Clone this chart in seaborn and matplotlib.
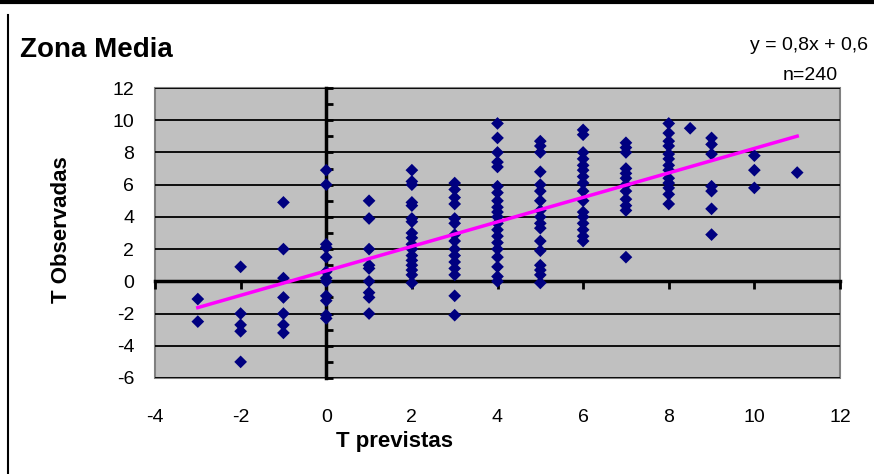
import matplotlib
matplotlib.use("Agg")
import matplotlib.pyplot as plt
from matplotlib.lines import Line2D
from matplotlib.ticker import MultipleLocator
import seaborn as sns
import pandas as pd
import numpy as np

# T previstas (x) columns and the T observadas values
prev_cols = [-3, -2, -1, 0, 1, 2, 3, 4, 5, 6, 7, 8, 8.5, 9, 10, 11]
obs_m3 = [-1.1, -2.5]
obs_m2 = [0.9, -2.0, -2.7, -3.1, -5.0]
obs_m1 = [4.9, 2.0, 0.2, -1.0, -2.0, -2.7, -3.2]
obs_0 = [6.9, 6.0, 2.3, 2.1, 1.5, 0.6, 0.2, 0.0, -0.9, -1.2, -2.1, -2.3]
obs_1 = [5.0, 3.9, 2.0, 1.0, 0.8, 0.0, -0.7, -1.0, -2.0]
obs_2 = [6.9, 6.2, 6.0, 4.9, 4.7, 3.9, 3.7, 3.0, 2.7, 2.3, 2.0, 1.6, 1.3, 1.0, 0.7, 0.4, -0.1]
obs_3 = [6.1, 5.7, 5.2, 4.8, 3.9, 3.6, 2.9, 2.5, 2.0, 1.6, 1.2, 0.8, 0.4, -0.9, -2.1]
obs_4 = [9.8, 8.9, 8.0, 7.4, 7.1, 5.9, 5.5, 5.0, 4.6, 4.3, 4.0, 3.6, 3.2, 2.8, 2.4, 2.0, 1.5, 0.9, 0.3, 0.0]
obs_5 = [8.7, 8.4, 8.0, 6.8, 6.0, 5.6, 5.0, 4.4, 4.0, 3.6, 3.3, 2.5, 1.9, 1.0, 0.7, 0.4, -0.1]
obs_6 = [9.4, 9.1, 8.0, 7.6, 7.2, 6.9, 6.5, 6.1, 5.6, 5.0, 4.3, 4.0, 3.6, 3.2, 2.8, 2.5]
obs_7 = [8.6, 8.3, 8.0, 7.0, 6.7, 6.4, 6.0, 5.6, 5.1, 4.7, 4.4, 1.5]
obs_8 = [9.8, 9.2, 8.7, 8.4, 7.9, 7.6, 7.2, 6.9, 6.4, 6.1, 5.8, 5.4, 4.8]
obs_85 = [9.5]
obs_9 = [8.9, 8.5, 7.9, 5.9, 5.6, 4.5, 2.9]
obs_10 = [7.8, 6.9, 5.8]
obs_11 = [6.75]

obs_cols = [obs_m3, obs_m2, obs_m1, obs_0, obs_1, obs_2, obs_3, obs_4,
            obs_5, obs_6, obs_7, obs_8, obs_85, obs_9, obs_10, obs_11]

# Excel linear trendline
trend_slope = 0.76
trend_intercept = 0.65
trend_range = [-3, 11]

x_ticks = list(range(-4, 13, 2))
y_ticks = list(range(-6, 13, 2))

rows = []
for xv, ys in zip(prev_cols, obs_cols):
    for yv in ys:
        rows.append((xv, yv))
df = pd.DataFrame(rows, columns=["prevista", "observada"])

trend_x = np.array(trend_range, dtype=float)
trend_df = pd.DataFrame({"prevista": trend_x,
                         "observada": trend_slope * trend_x + trend_intercept})

plt.rcParams["font.family"] = ["Liberation Sans Narrow", "Liberation Sans", "DejaVu Sans"]
plt.rcParams["axes.unicode_minus"] = False

fig = plt.figure(figsize=(8.74, 4.74), dpi=100)
ax = fig.add_axes([155 / 874, 1 - 378 / 474, 685 / 874, 290 / 474])
ax.set_facecolor("#C0C0C0")
ax.patch.set_edgecolor("#808080")
ax.patch.set_linewidth(1.5)

sns.scatterplot(data=df, x="prevista", y="observada", marker="D", s=42,
                color="#000080", edgecolor="none", ax=ax, zorder=3)
sns.lineplot(data=trend_df, x="prevista", y="observada", color="#FF00FF",
             linewidth=2.5, ax=ax, zorder=4)

ax.set_xlim(-4, 12)
ax.set_ylim(-6, 12)

# axes crossing at zero, Excel style
for side in ["top", "right"]:
    ax.spines[side].set_visible(False)
for side in ["left", "bottom"]:
    ax.spines[side].set_position(("data", 0))
    ax.spines[side].set_linewidth(2.5)
    ax.spines[side].set_color("black")
    ax.spines[side].set_zorder(2.6)

ax.set_xticks(x_ticks)
ax.set_yticks(y_ticks)
ax.yaxis.set_minor_locator(MultipleLocator(1))
ax.tick_params(axis="y", which="both", direction="in", length=5, width=2,
               labelleft=False)
ax.tick_params(axis="x", direction="out", length=6, width=2, labelbottom=False)
ax.set_axisbelow(True)
ax.yaxis.grid(True, which="major", color="black", linewidth=1.3)
ax.xaxis.grid(False)
ax.set_xlabel("")
ax.set_ylabel("")

# tick labels at the outer edges of the plot area
sec_y = ax.secondary_yaxis(0)
sec_y.set_yticks(y_ticks)
sec_y.tick_params(length=0, labelsize=14, pad=15)
sec_y.spines["left"].set_visible(False)
sec_x = ax.secondary_xaxis(0)
sec_x.set_xticks(x_ticks)
sec_x.tick_params(length=0, labelsize=14, pad=22)
sec_x.spines["bottom"].set_visible(False)

fig.text(62 / 874, 1 - 230 / 474, "T Observadas", rotation=90, fontsize=16,
         fontweight="bold", ha="center", va="center")
fig.text(395 / 874, 1 - 441 / 474, "T previstas", fontsize=16,
         fontweight="bold", ha="center", va="center")
fig.text(20 / 874, 1 - 50 / 474, "Zona Media", fontsize=20,
         fontweight="bold", ha="left", va="center")
fig.text(868 / 874, 1 - 46 / 474, "y = 0,8x + 0,6", fontsize=14,
         ha="right", va="center")
fig.text(838 / 874, 1 - 76 / 474, "n=240", fontsize=14,
         ha="right", va="center")

# frame lines of the original picture
fig.add_artist(Line2D([0, 1], [1 - 1.5 / 474, 1 - 1.5 / 474],
                      transform=fig.transFigure, color="black", linewidth=3))
fig.add_artist(Line2D([8 / 874, 8 / 874], [0, 1 - 15 / 474],
                      transform=fig.transFigure, color="black", linewidth=1.5))

fig.savefig("out.png", dpi=100)
